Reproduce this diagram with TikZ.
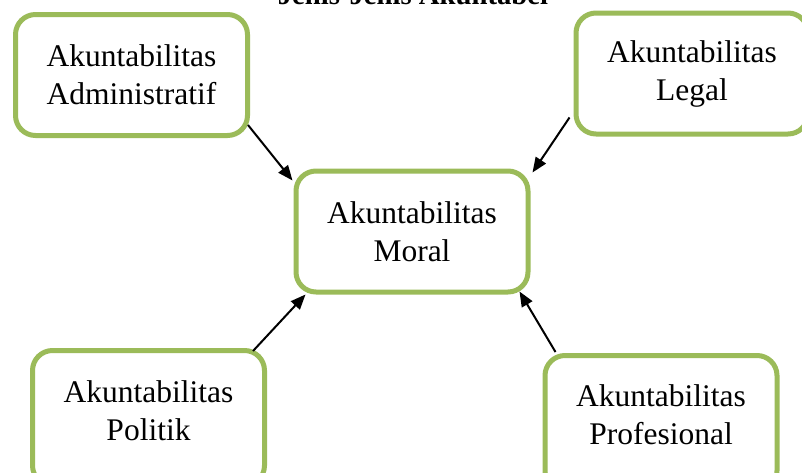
\documentclass[tikz,border=0pt]{standalone}
\usepackage{fontspec}
\setmainfont{Liberation Serif}
\usetikzlibrary{arrows.meta}
\definecolor{olivegreen}{HTML}{9BBB59}
\begin{document}
\begin{tikzpicture}[x=1pt,y=-1pt,
    akunbox/.style={draw=olivegreen, line width=5pt, rounded corners=20pt, fill=white,
        minimum width=232pt, minimum height=121pt, align=center, inner sep=0pt,
        font=\fontsize{31.5}{38}\selectfont},
    panah/.style={-{Triangle[length=15pt,width=12pt]}, line width=2pt}]
\useasboundingbox (0,0) rectangle (802,472);
% title, cut off at the top
\node[anchor=base, font=\fontsize{28.7}{34}\selectfont\bfseries] (judul) at (413,4) {Jenis-Jenis Akuntabel};
% boxes
\node[akunbox] (adm) at (131.5,75) {Akuntabilitas\\Administratif};
\node[akunbox] (legal) at (692,73.5) {Akuntabilitas\\Legal};
\node[akunbox] (moral) at (412,231.5) {Akuntabilitas\\Moral};
\node[akunbox, minimum height=135pt, text depth=14pt] (politik) at (148.5,418) {Akuntabilitas\\Politik};
\node[akunbox, minimum height=135pt, text depth=16pt] (prof) at (661,423) {Akuntabilitas\\Profesional};
% arrows into the middle box
\draw[panah] ([shift={(-2,-13)}]adm.south east) -- ([shift={(-1,12)}]moral.north west);
\draw[panah] ([shift={(-4,-19)}]legal.south west) -- ([shift={(2,4)}]moral.north east);
\draw[panah] ([shift={(-14,3)}]politik.north east) -- ([shift={(12,0)}]moral.south west);
\draw[panah] ([shift={(13,-1)}]prof.north west) -- ([shift={(-11,-3)}]moral.south east);
\end{tikzpicture}
\end{document}
